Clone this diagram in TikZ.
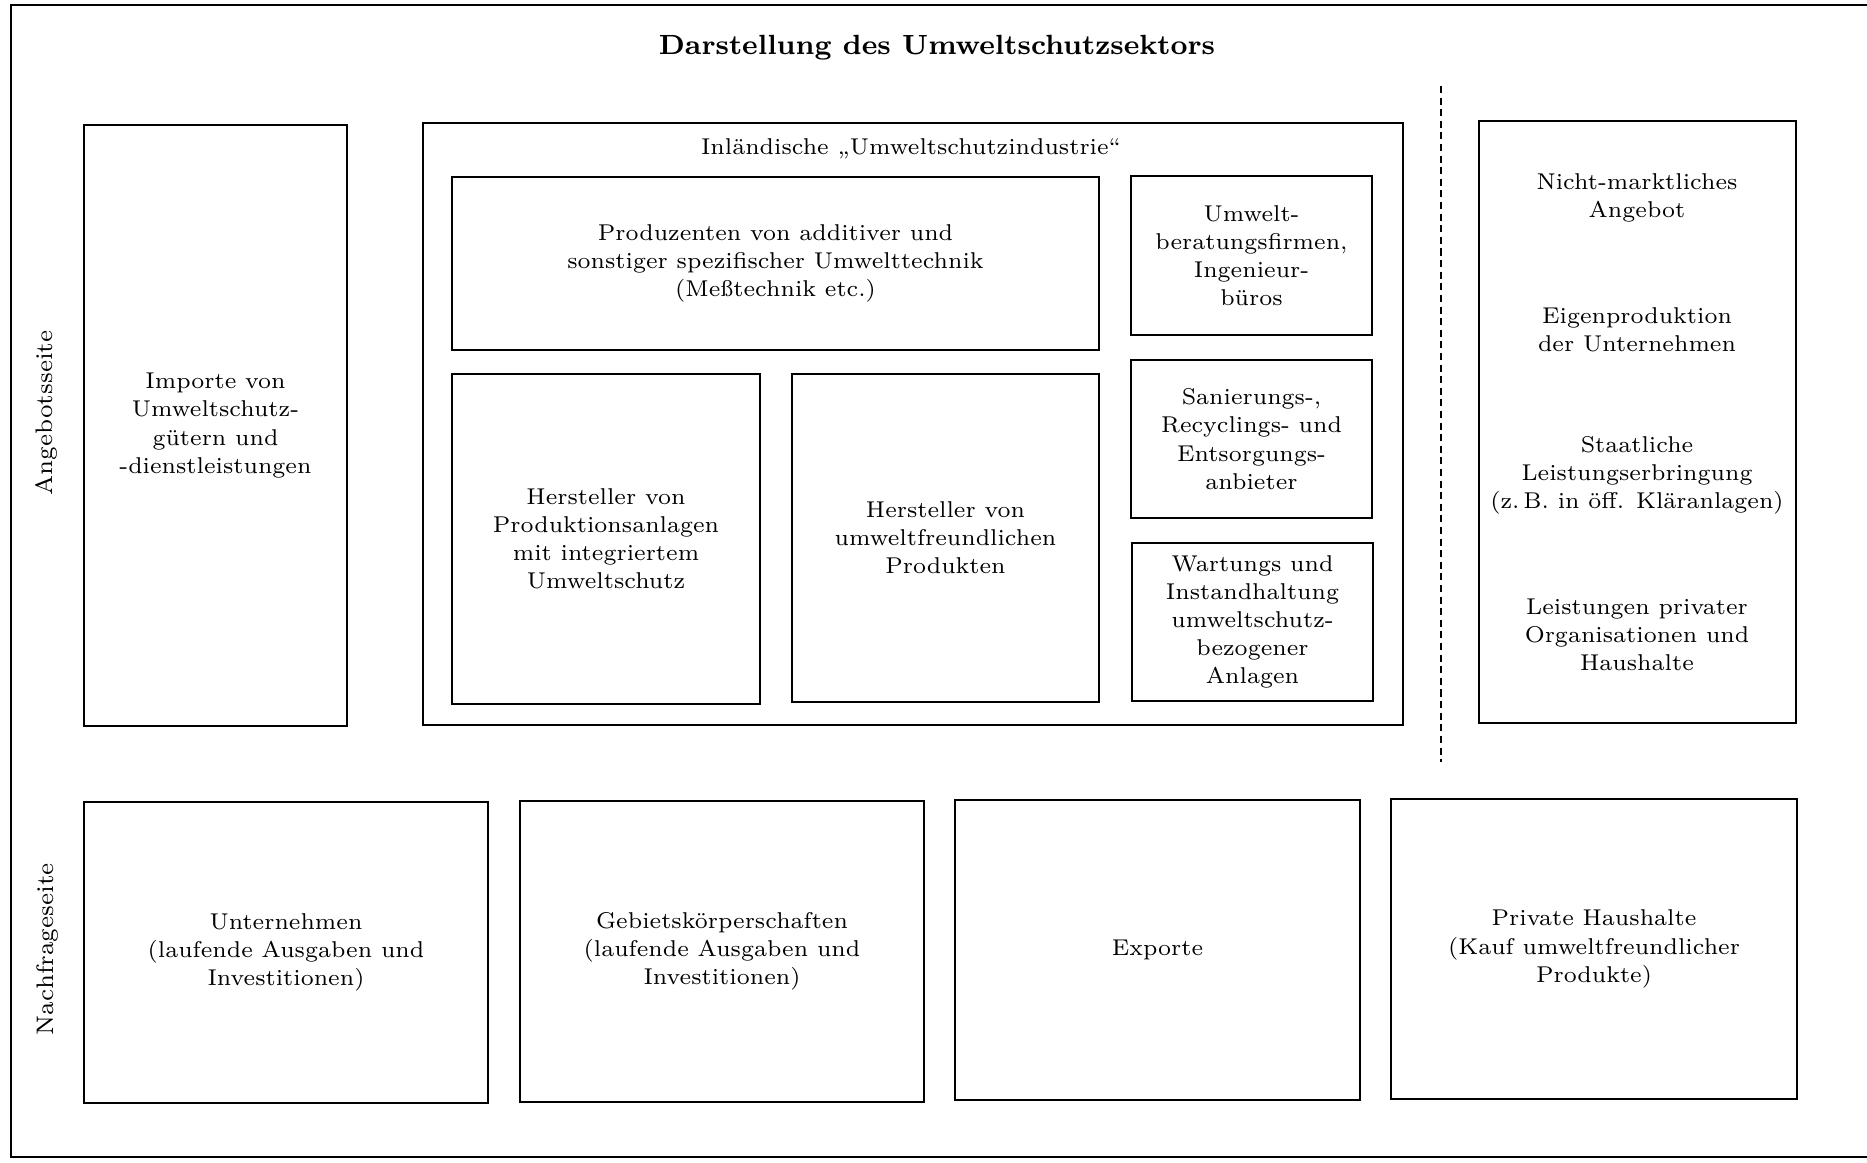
\documentclass[tikz,border=0pt]{standalone}
\usepackage{fontspec}
\usetikzlibrary{positioning}

\tikzset{
  kasten/.style={draw, line width=0.6pt, align=center, inner sep=0pt,
    font=\fontsize{6.5}{8}\selectfont},
  beschriftung/.style={align=center, inner sep=0pt, font=\fontsize{6.5}{8}\selectfont},
  seite/.style={rotate=90, inner sep=0pt, font=\fontsize{6.8}{8}\selectfont}
}

\begin{document}
\begin{tikzpicture}[x=0.01cm, y=-0.01cm]
        \useasboundingbox (0,0) rectangle (1867,1162);

        % Rahmen
        \draw[line width=0.7pt] (1867,5) -- (11,5) -- (11,1157) -- (1867,1157);

        % Titel
        \node[font=\fontsize{7.9}{10}\selectfont\bfseries] (titel) at (937,48) {Darstellung des Umweltschutzsektors};

        % Seitenbeschriftungen
        \node[seite] (angebot) at (46,413) {Angebotsseite};
        \node[seite] (nachfrage) at (48,949) {Nachfrageseite};

        % Angebotsseite
        \node[kasten, minimum width=26.2mm, minimum height=60.1mm] (importe) at (215.5,425.5)
            {Importe von\\Umweltschutz-\\gütern und\\-dienstleistungen};

        \node[kasten, minimum width=98mm, minimum height=60.2mm] (industrie) at (913,424) {};
        \node[beschriftung] (industrietitel) at (911,149) {Inländische „Umweltschutzindustrie“};

        \node[kasten, minimum width=64.7mm, minimum height=17.3mm] (produzenten) at (775.5,263.5)
            {Produzenten von additiver und\\sonstiger spezifischer Umwelttechnik\\(Meßtechnik etc.)};
        \node[kasten, minimum width=30.8mm, minimum height=33mm] (anlagen) at (606,539)
            {Hersteller von\\Produktionsanlagen\\mit integriertem\\Umweltschutz};
        \node[kasten, minimum width=30.7mm, minimum height=32.8mm] (produkte) at (945.5,538)
            {Hersteller von\\umweltfreundlichen\\Produkten};
        \node[kasten, minimum width=24.1mm, minimum height=15.9mm] (beratung) at (1251.5,255.5)
            {Umwelt-\\beratungsfirmen,\\Ingenieur-\\büros};
        \node[kasten, minimum width=24.1mm, minimum height=15.8mm] (sanierung) at (1251.5,439)
            {Sanierungs-,\\Recyclings- und\\Entsorgungs-\\anbieter};
        \node[kasten, minimum width=24.1mm, minimum height=15.8mm] (wartung) at (1252.5,622)
            {Wartungs und\\Instandhaltung\\umweltschutz-\\bezogener\\Anlagen};

        % Trennlinie
        \coordinate (oben) at (1441,86);
        \coordinate (unten) at (1441,762);
        \draw[line width=0.6pt, dash pattern=on 2pt off 1.3pt] (oben) -- (unten);

        % Nicht-marktliches Angebot
        \node[kasten, minimum width=31.7mm, minimum height=60.2mm] (staat) at (1637.5,422) {};
        \node[beschriftung] (nichtmarkt) at (1637,198) {Nicht-marktliches\\Angebot};
        \node[beschriftung] (eigen) at (1637,330) {Eigenproduktion\\der Unternehmen};
        \node[beschriftung] (leistung) at (1637,475) {Staatliche\\Leistungserbringung\\(z.\,B. in öff. Kläranlagen)};
        \node[beschriftung] (privat) at (1637,635) {Leistungen privater\\Organisationen und\\Haushalte};

        % Nachfrageseite
        \node[kasten, minimum width=40.4mm, minimum height=30.1mm] (unternehmen) at (286,952.5)
            {Unternehmen\\(laufende Ausgaben und\\Investitionen)};
        \node[kasten, minimum width=40.4mm, minimum height=30.1mm] (gebiet) at (722,951.5)
            {Gebietskörperschaften\\(laufende Ausgaben und\\Investitionen)};
        \node[kasten, minimum width=40.5mm, minimum height=30mm] (exporte) at (1157.5,950)
            {Exporte};
        \node[kasten, minimum width=40.6mm, minimum height=30mm] (haushalte) at (1594,949)
            {Private Haushalte\\(Kauf umweltfreundlicher\\Produkte)};

\end{tikzpicture}
\end{document}
